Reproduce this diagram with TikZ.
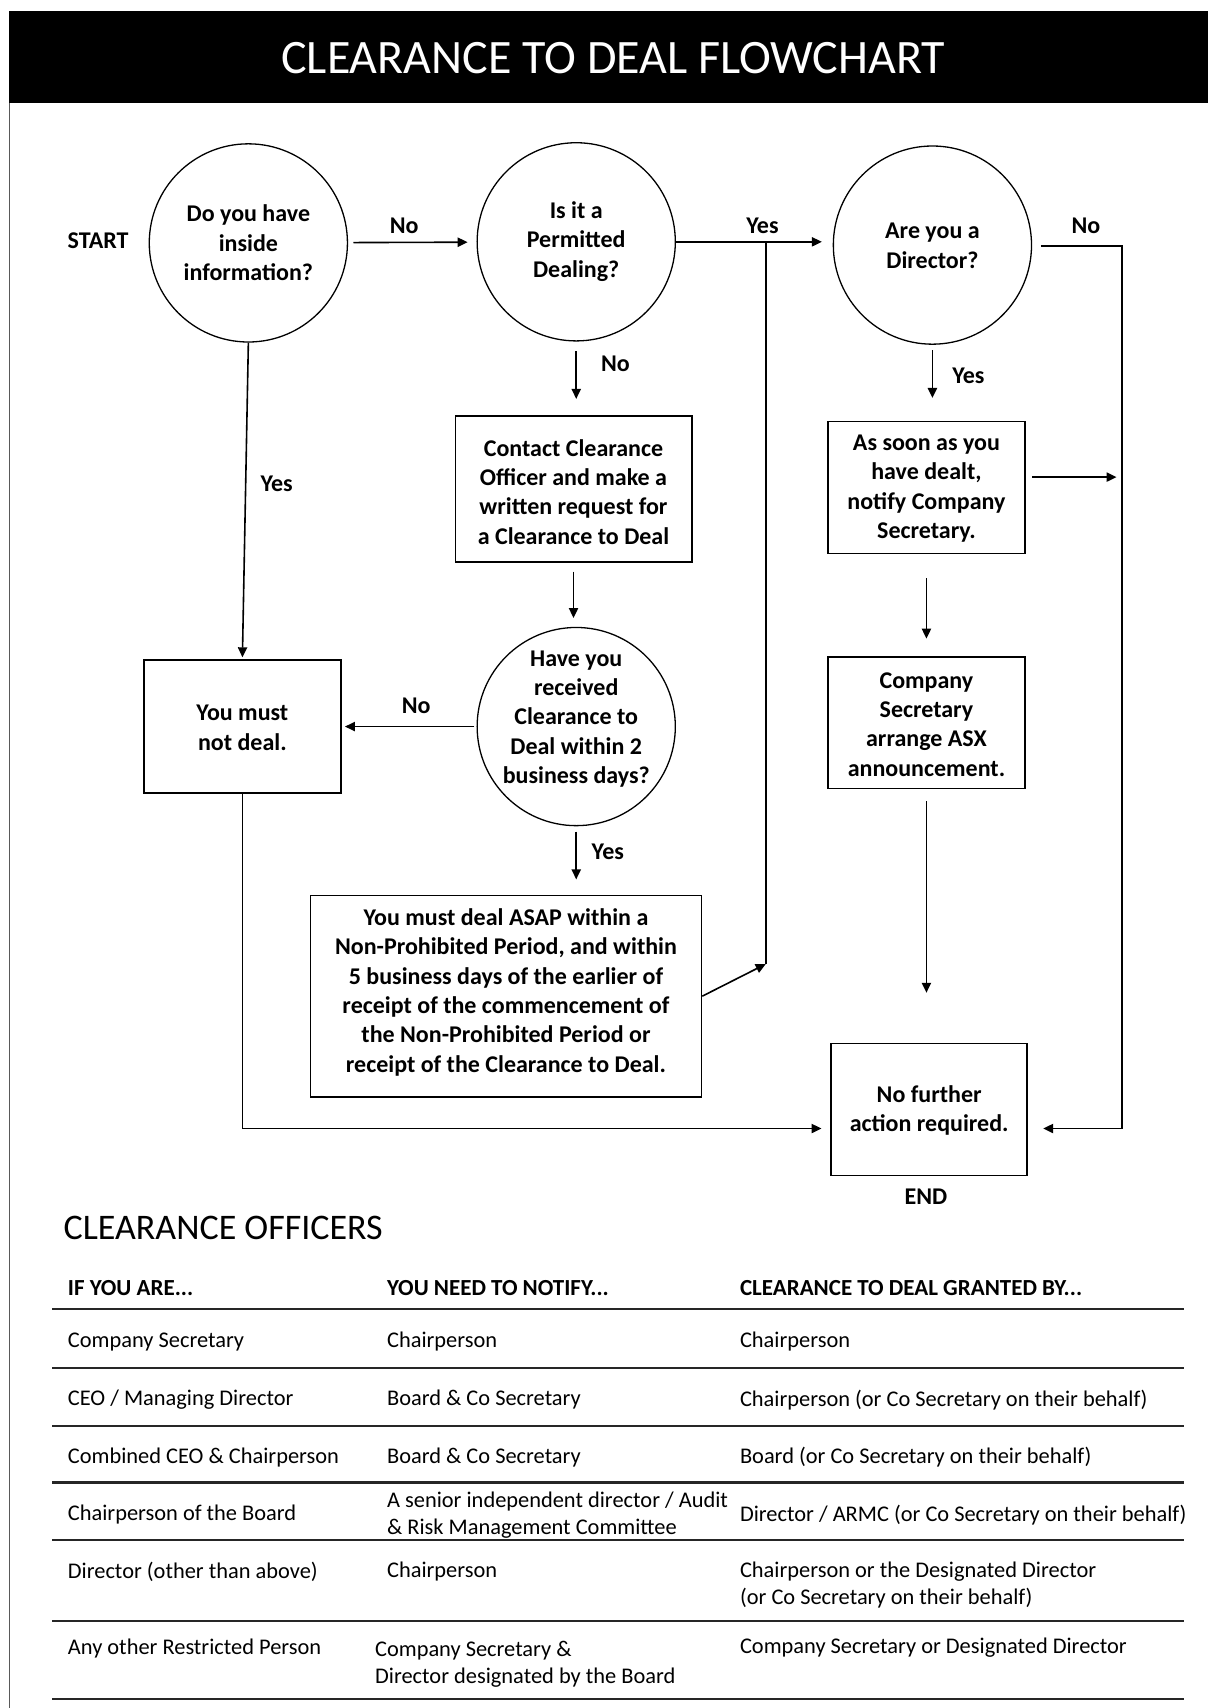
\documentclass[tikz,border=0pt]{standalone}
\usepackage{fontspec}
\setmainfont{Carlito}
\usetikzlibrary{arrows.meta}
\begin{document}
\begin{tikzpicture}[x=0.5447pt,y=-0.5447pt,
  every node/.style={font=\bfseries\fontsize{12}{14.7}\selectfont, inner sep=0pt},
  dec/.style={draw, circle, line width=0.65pt, minimum size=99.1pt},
  box/.style={draw, rectangle, line width=0.8pt},
  txt/.style={align=center},
  arr/.style={line width=0.8pt, -{Triangle[length=5pt,width=4.6pt]}},
  ln/.style={line width=0.8pt},
  lbl/.style={font=\bfseries\fontsize{12}{14}\selectfont},
  tab/.style={anchor=west, font=\fontsize{11.2}{13}\selectfont},
  tabh/.style={anchor=west, font=\bfseries\fontsize{11.5}{13}\selectfont},
  rowrule/.style={line width=1.1pt, draw=black!85}
]
\useasboundingbox (0,0) rectangle (1109,1568);
% header
\fill[black] (8,10) rectangle (1109,95);
\node[text=white, font=\fontsize{24}{28}\selectfont] (title) at (563,53) {CLEARANCE TO DEAL FLOWCHART};
\draw[line width=0.6pt, draw=black!65] (8.5,95) -- (8.5,1568);

% decisions
\node[dec] (c1) at (228,223) {};
\node[dec] (c2) at (529,222) {};
\node[dec] (c3) at (856,225) {};
\node[dec] (c4) at (529,667) {};
\node[txt] (t1) at (228,223) {Do you have\\inside\\information?};
\node[txt] (t2) at (529,221.5) {Is it a\\Permitted\\Dealing?};
\node[txt] (t3) at (856,225.5) {Are you a\\Director?};
\node[txt] (t4) at (529,660) {Have you\\received\\Clearance to\\Deal within 2\\business days?};

% boxes
\node[box, minimum width={217*0.5447pt}, minimum height={134*0.5447pt}] (contact) at (526.5,449) {};
\node[txt] (tcontact) at (526.5,451.5) {Contact Clearance\\Officer and make a\\written request for\\a Clearance to Deal};
\node[box, minimum width={181*0.5447pt}, minimum height={122*0.5447pt}] (notdeal) at (222.5,667) {};
\node[txt] (tnotdeal) at (222.5,668) {You must\\not deal.};
\node[box, minimum width={359*0.5447pt}, minimum height={185*0.5447pt}] (asap) at (464.5,914.5) {};
\node[txt] (tasap) at (464.5,911) {You must deal ASAP within a\\Non-Prohibited Period, and within\\5 business days of the earlier of\\receipt of the commencement of\\the Non-Prohibited Period or\\receipt of the Clearance to Deal.};
\node[box, minimum width={181*0.5447pt}, minimum height={121*0.5447pt}] (dealt) at (850.5,447.5) {};
\node[txt] (tdealt) at (850.5,448.5) {As soon as you\\have dealt,\\notify Company\\Secretary.};
\node[box, minimum width={181*0.5447pt}, minimum height={121*0.5447pt}] (asx) at (850.5,663.5) {};
\node[txt] (tasx) at (850.5,665) {Company\\Secretary\\arrange ASX\\announcement.};
\node[box, minimum width={180*0.5447pt}, minimum height={121*0.5447pt}] (nfa) at (853,1018.5) {};
\node[txt] (tnfa) at (853,1019.5) {No further\\action required.};

\node (start) at (90,221) {START};
\node (endlbl) at (850,1099) {END};

% junction coordinates
\coordinate (j1) at (703,222);
\coordinate (j2) at (703,885);
\coordinate (n1) at (1030,226);
\coordinate (n2) at (1030,1036);
\coordinate (n3) at (1030,438);
\coordinate (n4) at (222.5,1036);

% connectors
\draw[arr, shorten <=2.7pt, shorten >=4.4pt] (c1) -- (c2);
\node[lbl] (l1) at (371,207) {No};
\draw[arr, shorten >=5.4pt] (c2.east) -- (c2.east -| c3.west);
\node[lbl] (l2) at (700,207) {Yes};
\draw[ln] (j2) -- (j1);
\draw[arr] (asap.east) -- (j2);
\draw[arr, shorten <=4.4pt, shorten >=7.6pt] (c3.east |- n1) -- (n1) -- (n2) -- (n2 -| nfa.east);
\node[lbl] (l3) at (997,207) {No};
\draw[arr, shorten <=3.3pt, shorten >=2.7pt] (dealt.east |- n3) -- (n3);
\draw[arr, shorten <=4.9pt, shorten >=8.2pt] (c2.south) -- (c2.south |- contact.north);
\node[lbl] (l4) at (565,334) {No};
\draw[arr, shorten <=4.4pt, shorten >=4.4pt] (contact.south) -- (contact.south |- c4.north);
\draw[arr, shorten <=1pt, shorten >=1.6pt] (c4.west) -- (notdeal.east);
\node[lbl] (l5) at (382,648) {No};
\draw[arr, shorten >=1pt] (c1.south) -- (notdeal.north);
\node[lbl] (l6) at (254,444) {Yes};
\draw[arr, shorten >=4.4pt] (notdeal.south) -- (n4) -- (n4 -| nfa.west);
\draw[arr, shorten <=2.7pt, shorten >=7.6pt] (c4.south) -- (c4.south |- asap.north);
\node[lbl] (l7) at (558,782) {Yes};
\draw[arr, shorten <=2.7pt, shorten >=11.4pt] (c3.south) -- (c3.south |- dealt.north);
\node[lbl] (l8) at (889,345) {Yes};
\draw[arr, shorten <=12pt, shorten >=8.7pt] (dealt.south) -- (asx.north);
\draw[arr, shorten <=6pt, shorten >=25pt] (asx.south) -- (asx.south |- nfa.north);

% table
\node[anchor=west, font=\fontsize{18}{20}\selectfont] (officers) at (58,1127) {CLEARANCE OFFICERS};
\node[tabh] (h1) at (62,1182) {IF YOU ARE...};
\node[tabh] (h2) at (355,1182) {YOU NEED TO NOTIFY...};
\node[tabh] (h3) at (679,1182) {CLEARANCE TO DEAL GRANTED BY...};
\foreach \yy in {1202,1256,1309,1361,1414,1488,1560}
  \draw[rowrule] (48,\yy) -- (1087,\yy);

\node[tab] (a1) at (62,1232) {Company Secretary};
\node[tab] (b1) at (355,1232) {Chairperson};
\node[tab] (c1t) at (679,1232) {Chairperson};

\node[tab] (a2) at (62,1285) {CEO / Managing Director};
\node[tab] (b2) at (355,1285) {Board \& Co Secretary};
\node[tab] (c2t) at (679,1285) {Chairperson (or Co Secretary on their behalf)};

\node[tab] (a3) at (62,1338) {Combined CEO \& Chairperson};
\node[tab] (b3) at (355,1338) {Board \& Co Secretary};
\node[tab] (c3t) at (679,1338) {Board (or Co Secretary on their behalf)};

\node[tab] (a4) at (62,1390) {Chairperson of the Board};
\node[tab] (b4a) at (355,1378) {A senior independent director / Audit};
\node[tab] (b4b) at (355,1403) {\& Risk Management Committee};
\node[tab] (c4t) at (679,1391) {Director / ARMC (or Co Secretary on their behalf)};

\node[tab] (a5) at (62,1443) {Director (other than above)};
\node[tab] (b5) at (355,1443) {Chairperson};
\node[tab] (c5a) at (679,1443) {Chairperson or the Designated Director};
\node[tab] (c5b) at (679,1467) {(or Co Secretary on their behalf)};

\node[tab] (a6) at (62,1513) {Any other Restricted Person};
\node[tab] (b6a) at (344,1515) {Company Secretary \&};
\node[tab] (b6b) at (344,1540) {Director designated by the Board};
\node[tab] (c6t) at (679,1513) {Company Secretary or Designated Director};
\end{tikzpicture}
\end{document}
